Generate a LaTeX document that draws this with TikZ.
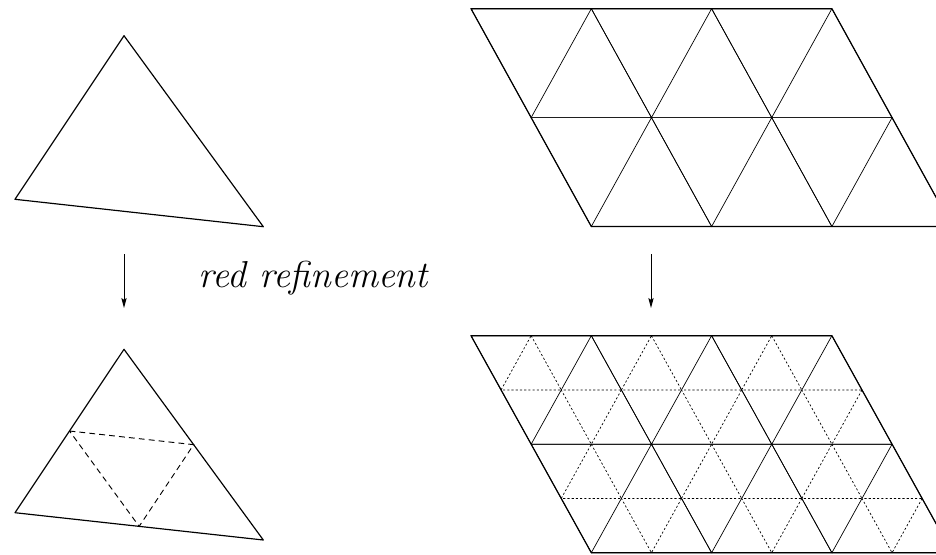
\documentclass[tikz,border=0pt]{standalone}
\usepackage{fontspec}
\usetikzlibrary{calc, arrows.meta}

\begin{document}
\begin{tikzpicture}[
  x=0.03cm, y=-0.03cm,
  edge/.style={line width=1pt, line join=round},
  meshline/.style={line width=0.6pt},
  finemesh/.style={line width=0.6pt, dash pattern=on 1.8pt off 1.8pt},
  midtri/.style={line width=0.8pt, dash pattern=on 5pt off 3.5pt},
  arr/.style={line width=0.8pt, -{Stealth[length=8.5pt, width=4.5pt, inset=1.5pt]}},
  refinetext/.style={font=\itshape\fontsize{32}{36}\selectfont, inner sep=0pt, anchor=base}
]
\useasboundingbox (0,0) rectangle (936,554);
\clip (0,0) rectangle (936,554);

% single triangle, before and after
\coordinate (a1) at (124,35.7);
\coordinate (a2) at (15,199.3);
\coordinate (a3) at (263.3,226.7);
\draw[edge] (a1) -- (a2) -- (a3) -- cycle;

\coordinate (c1) at (124,349.3);
\coordinate (c2) at (15,512.7);
\coordinate (c3) at (263.3,540);
\draw[edge] (c1) -- (c2) -- (c3) -- cycle;
\draw[midtri] ($(c1)!.5!(c2)$) -- ($(c1)!.5!(c3)$) -- ($(c2)!.5!(c3)$) -- cycle;

% mesh vertices
\foreach \j in {0,1,2}
  \foreach \i in {0,...,3} {
    \coordinate (t\i\j) at ({471+60.15*\j+120.3*\i},{8.7+108.9*\j});
    \coordinate (b\i\j) at ({471+60.15*\j+120.3*\i},{335.7+108.5*\j});
  }

% coarse mesh (top) and refined mesh (bottom)
\foreach \j/\jj in {0/1,1/2}
  \foreach \i/\ii in {0/1,1/2,2/3} {
    \draw[meshline] (t\i\j) -- (t\ii\j) -- (t\i\jj) -- cycle
                    (t\ii\j) -- (t\ii\jj) -- (t\i\jj);
    \draw[meshline] (b\i\j) -- (b\ii\j) -- (b\i\jj) -- cycle
                    (b\ii\j) -- (b\ii\jj) -- (b\i\jj);
    \draw[finemesh] ($(b\i\j)!.5!(b\ii\j)$) -- ($(b\ii\j)!.5!(b\i\jj)$)
                    -- ($(b\i\j)!.5!(b\i\jj)$) -- cycle;
    \draw[finemesh] ($(b\ii\j)!.5!(b\ii\jj)$) -- ($(b\ii\jj)!.5!(b\i\jj)$)
                    -- ($(b\ii\j)!.5!(b\i\jj)$) -- cycle;
  }
\draw[edge] (t00) -- (t30) -- (t32) -- (t02) -- cycle;
\draw[edge] (b00) -- (b30) -- (b32) -- (b02) -- cycle;

% arrows and caption
\coordinate (l1) at (124,254);
\coordinate (l2) at (124,308);
\coordinate (r1) at (651,254);
\coordinate (r2) at (651,308);
\draw[arr] (l1) -- (l2);
\draw[arr] (r1) -- (r2);
\node[refinetext] (redref) at (313.3,287.5) {red refinement};
\end{tikzpicture}
\end{document}
